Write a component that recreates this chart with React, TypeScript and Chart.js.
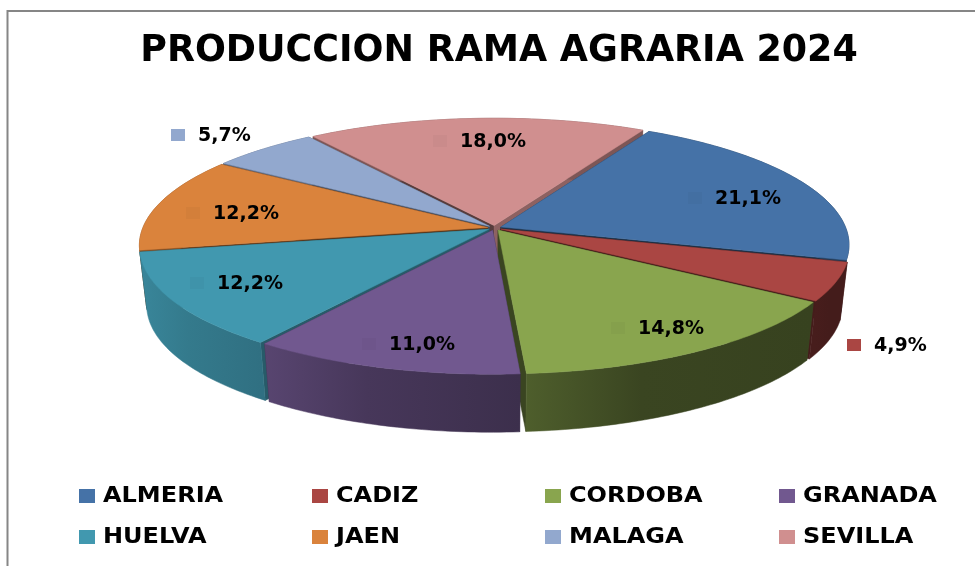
import React, { useEffect, useRef } from "react";
import { Chart, registerables } from "chart.js";

Chart.register(...registerables);

const categories = ["ALMERIA", "CADIZ", "CORDOBA", "GRANADA", "HUELVA", "JAEN", "MALAGA", "SEVILLA"];
const shares = [21.1, 4.9, 14.8, 11.0, 12.2, 12.2, 5.7, 18.0];
const colors = ["#4572a7", "#aa4643", "#89a54e", "#71588f", "#4198af", "#da833c", "#92a8ce", "#d08f8f"];
const titleText = "PRODUCCION RAMA AGRARIA 2024";
const labelAnchors = [[715, 198], [874, 345], [638, 328], [389, 344], [217, 283], [213, 213], [198, 135], [460, 141]];
const outsideKeys = [false, true, false, false, false, false, true, false];
const rimShade = [[0.5, 0.5, 0.5], [0.4, 0.4, 0.42], [0.4, 0.42, 0.57], [0.53, 0.63, 0.78], [0.74, 0.8, 0.88], [0.6, 0.6, 0.6], [0.6, 0.6, 0.6], [0.6, 0.6, 0.6]];
const startWallShade = [0.45, 0.4, 0.45, 0.5, 0.6, 0.45, 0.4, 0.42];
const endWallShade = [0.4, 0.4, 0.42, 0.5, 0.6, 0.4, 0.45, 0.68];
const legendCols = [79, 312, 545, 779];
const legendRows = [496, 537];

const FONT = '"DejaVu Sans", sans-serif';
const CX = 494.5, CY = 228, RX = 345, RY = 123, P = 0.14, DEPTH = 58, LOW = 0.98, EXPLODE = 0.02;

function shade(hex: string, f: number) {
  const n = parseInt(hex.slice(1), 16);
  return `rgb(${Math.round(((n >> 16) & 255) * f)},${Math.round(((n >> 8) & 255) * f)},${Math.round((n & 255) * f)})`;
}
function proj(u: number, v: number, low: boolean) {
  const w = 1 - P * v;
  return [CX + (RX * (low ? LOW : 1) * u) / w, CY + (low ? DEPTH : 0) + (RY * v) / w];
}
function poly(ctx: CanvasRenderingContext2D, pts: number[][], fill: any) {
  ctx.beginPath();
  pts.forEach((p, i) => (i ? ctx.lineTo(p[0], p[1]) : ctx.moveTo(p[0], p[1])));
  ctx.closePath();
  ctx.fillStyle = fill;
  ctx.strokeStyle = fill;
  ctx.lineWidth = 0.5;
  ctx.fill();
  ctx.stroke();
}

const pie3d = {
  id: "pie3d",
  beforeDraw(chart: any) {
    const { ctx } = chart;
    ctx.save();
    ctx.fillStyle = "#ffffff";
    ctx.fillRect(0, 0, 975, 566);
    ctx.strokeStyle = "#868686";
    ctx.lineWidth = 2;
    ctx.beginPath();
    ctx.moveTo(7.5, 566);
    ctx.lineTo(7.5, 11);
    ctx.lineTo(975, 11);
    ctx.stroke();
    ctx.restore();
  },
  beforeDatasetDraw(chart: any) {
    const { ctx } = chart;
    const arcs = chart.getDatasetMeta(0).data;
    const order = arcs.map((_: any, i: number) => i).sort((a: number, b: number) => {
      const m = (k: number) => Math.sin((arcs[k].startAngle + arcs[k].endAngle) / 2);
      return m(a) - m(b);
    });
    ctx.save();
    for (const i of order) {
      const a0 = arcs[i].startAngle, a1 = arcs[i].endAngle, mid = (a0 + a1) / 2;
      const ex = EXPLODE * Math.cos(mid), ey = EXPLODE * Math.sin(mid);
      const steps = Math.max(8, Math.ceil((a1 - a0) * 60));
      const top: number[][] = [], low: number[][] = [];
      for (let s = 0; s <= steps; s++) {
        const t = a0 + ((a1 - a0) * s) / steps;
        top.push(proj(Math.cos(t) + ex, Math.sin(t) + ey, false));
        low.push(proj(Math.cos(t) + ex, Math.sin(t) + ey, true));
      }
      const apexT = proj(ex, ey, false), apexL = proj(ex, ey, true);
      poly(ctx, [apexT, top[0], low[0], apexL], shade(colors[i], startWallShade[i]));
      poly(ctx, [apexT, top[steps], low[steps], apexL], shade(colors[i], endWallShade[i]));
      const g = ctx.createLinearGradient(top[0][0], 0, top[steps][0], 0);
      g.addColorStop(0, shade(colors[i], rimShade[i][0]));
      g.addColorStop(0.6, shade(colors[i], rimShade[i][1]));
      g.addColorStop(1, shade(colors[i], rimShade[i][2]));
      poly(ctx, [...top, ...low.slice().reverse()], g);
      poly(ctx, [apexT, ...top], colors[i]);
    }
    chart.data.datasets[0].data.forEach((value: number, i: number) => {
      const [x, y] = labelAnchors[i];
      ctx.fillStyle = outsideKeys[i] ? colors[i] : shade(colors[i], 0.97);
      ctx.fillRect(x - 27, y - 6, 14, 12);
      ctx.fillStyle = "#000000";
      ctx.font = `bold 19px ${FONT}`;
      ctx.textAlign = "left";
      ctx.textBaseline = "middle";
      ctx.fillText(value.toFixed(1).replace(".", ",") + "%", x, y + 1);
    });
    ctx.restore();
    return false;
  },
};

export default function App() {
  const ref = useRef<HTMLCanvasElement>(null);
  useEffect(() => {
    document.body.style.margin = "0";
    const chart = new Chart(ref.current as HTMLCanvasElement, {
      type: "pie",
      data: {
        labels: categories,
        datasets: [{ data: shares, backgroundColor: colors }],
      },
      options: {
        responsive: false,
        animation: false,
        rotation: 29,
        layout: { padding: { left: 23 } },
        plugins: {
          legend: { display: false },
          tooltip: { enabled: false },
          title: {
            display: true,
            text: titleText,
            color: "#000000",
            font: { family: FONT, size: 36.4, weight: "bold" },
            padding: { top: 30, bottom: 10 },
          },
        },
      },
      plugins: [pie3d],
    } as any);
    return () => chart.destroy();
  }, []);
  return (
    <div style={{ position: "relative", width: 975, height: 566, overflow: "hidden" }}>
      <canvas ref={ref} width={975} height={566} style={{ display: "block" }} />
      {categories.map((name, i) => {
        const x = legendCols[i % 4];
        const y = legendRows[Math.floor(i / 4)];
        return (
          <React.Fragment key={name}>
            <div style={{ position: "absolute", left: x, top: y - 7, width: 16, height: 14, background: colors[i] }} />
            <div
              style={{
                position: "absolute",
                left: x + 24,
                top: y - 16,
                height: 30,
                font: `bold 24px/30px ${FONT}`,
                color: "#000",
                whiteSpace: "nowrap",
                transform: "scaleY(0.85)",
              }}
            >
              {name}
            </div>
          </React.Fragment>
        );
      })}
    </div>
  );
}
